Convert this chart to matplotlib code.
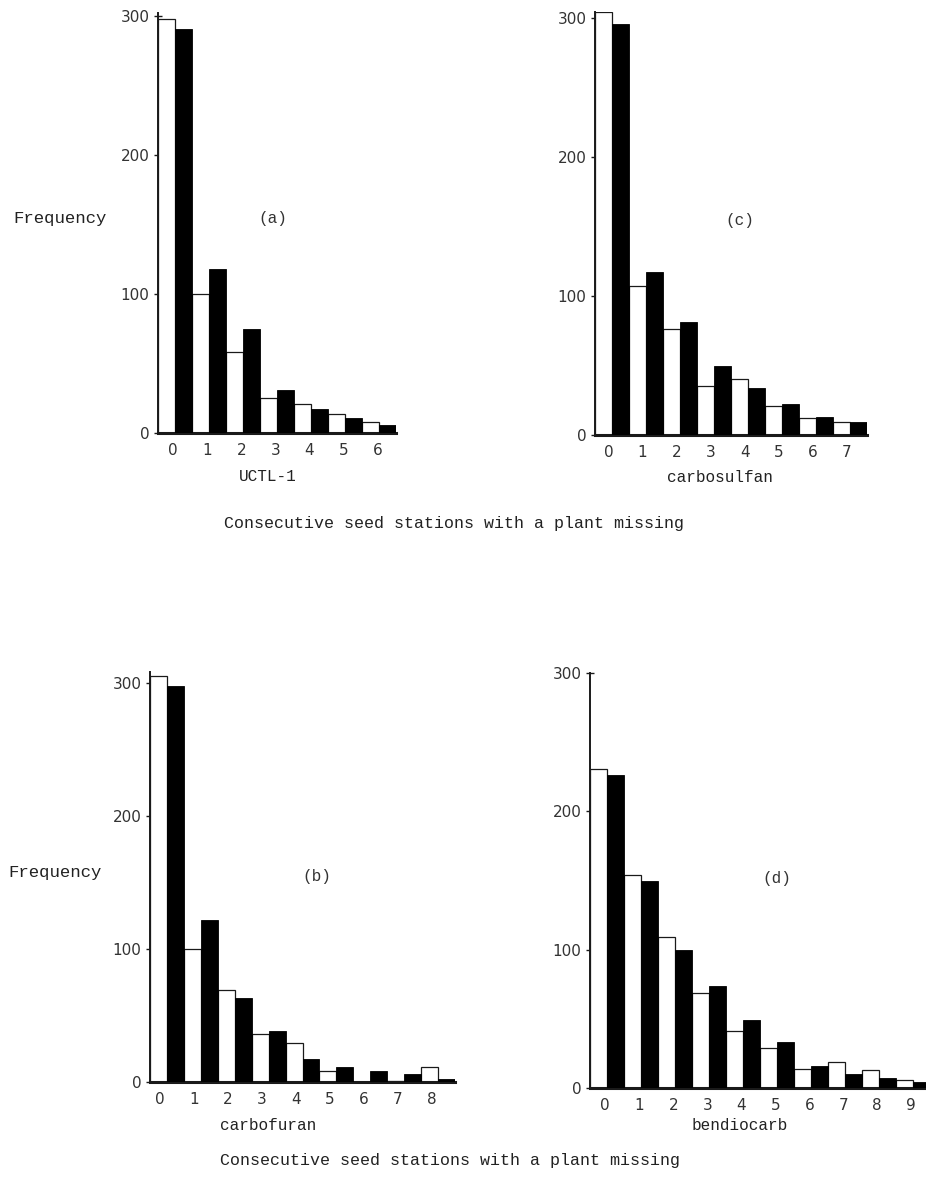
import matplotlib
matplotlib.use("Agg")
import matplotlib.pyplot as plt
import numpy as np

# Frequency of runs of consecutive seed stations with a plant missing
# open bars / filled bars for each seed treatment
uctl_open = [298, 100, 58, 25, 21, 14, 8]
uctl_filled = [291, 118, 75, 31, 17, 11, 6]

carbosulfan_open = [304, 107, 76, 35, 40, 21, 12, 9]
carbosulfan_filled = [296, 117, 81, 50, 34, 22, 13, 9]

carbofuran_open = [305, 100, 69, 36, 29, 8, 0, 1, 11]
carbofuran_filled = [298, 122, 63, 38, 17, 11, 8, 6, 2]

bendiocarb_open = [231, 154, 109, 69, 41, 29, 14, 19, 13, 6]
bendiocarb_filled = [226, 150, 100, 74, 49, 33, 16, 10, 7, 4]

panel_tags = ["(a)", "(c)", "(b)", "(d)"]
treatments = ["UCTL-1", "carbosulfan", "carbofuran", "bendiocarb"]
yticks = [0, 100, 200, 300]
caption = "Consecutive seed stations with a plant missing"

W, H = 926, 1183
fig = plt.figure(figsize=(W / 100, H / 100), dpi=100)
fig.patch.set_facecolor("white")

MONO = "Liberation Mono"
SANS = "DejaVu Sans"
INK = "#1a1a1a"


def px_axes(x0, y0, ncat, dx, ytop, ppu):
    """Axes whose origin sits at pixel (x0, y0), one category = dx pixels."""
    left = x0 / W
    bottom = 1 - y0 / H
    width = ncat * dx / W
    height = ytop * ppu / H
    return fig.add_axes([left, bottom, width, height])


def panel(x0, y0, dx, ppu, ytop, opens, filled, tag, tag_xy, name, name_xy,
          label_off):
    n = len(opens)
    ax = px_axes(x0, y0, n, dx, ytop, ppu)
    x = np.arange(n)
    ax.bar(x + 0.25, opens, width=0.5, color="white", edgecolor=INK,
           linewidth=0.9, zorder=2)
    ax.bar(x + 0.75, filled, width=0.5, color="black", edgecolor="black",
           linewidth=0.6, zorder=3)
    ax.set_xlim(0, n)
    ax.set_ylim(0, ytop)
    for s in ("top", "right"):
        ax.spines[s].set_visible(False)
    ax.spines["left"].set_linewidth(1.4)
    ax.spines["bottom"].set_linewidth(2.2)
    ax.spines["left"].set_color(INK)
    ax.spines["bottom"].set_color(INK)
    ax.set_yticks(yticks)
    ax.set_yticklabels([str(v) for v in yticks], fontsize=11, family=SANS,
                       color="#333333")
    ax.tick_params(axis="y", direction="inout", length=6, width=1.0, pad=3,
                   color=INK)
    ax.set_xticks(x + label_off)
    ax.set_xticklabels([str(v) for v in x], fontsize=11, family=SANS,
                       color="#333333")
    ax.tick_params(axis="x", length=0, pad=7)
    ax.patch.set_alpha(0)
    fig.text(tag_xy[0] / W, 1 - tag_xy[1] / H, tag, ha="center", va="center",
             family=MONO, fontsize=11.5, color="#333333")
    fig.text(name_xy[0] / W, 1 - name_xy[1] / H, name, ha="center",
             va="center", family=MONO, fontsize=11.5, color="#222222")
    return ax


panel(158, 433, 34.0, 1.39, 302, uctl_open, uctl_filled, panel_tags[0],
      (273, 218), treatments[0], (268, 476), 0.45)
panel(595, 435, 34.0, 1.39, 304, carbosulfan_open, carbosulfan_filled,
      panel_tags[1], (740, 220), treatments[1], (720, 478), 0.4)
panel(150, 1082, 33.9, 1.33, 308, carbofuran_open, carbofuran_filled,
      panel_tags[2], (317, 877), treatments[2], (268, 1125), 0.3)
panel(590, 1088, 34.0, 1.383, 300, bendiocarb_open, bendiocarb_filled,
      panel_tags[3], (777, 878), treatments[3], (740, 1125), 0.45)

# shared y-axis labels and captions
fig.text(60 / W, 1 - 218 / H, "Frequency", ha="center", va="center",
         family=MONO, fontsize=12.5, color="#222222")
fig.text(55 / W, 1 - 872 / H, "Frequency", ha="center", va="center",
         family=MONO, fontsize=12.5, color="#222222")
fig.text(454 / W, 1 - 523 / H, caption, ha="center", va="center",
         family=MONO, fontsize=12, color="#222222")
fig.text(450 / W, 1 - 1160 / H, caption, ha="center", va="center",
         family=MONO, fontsize=12, color="#222222")

fig.savefig("out.png", dpi=100, facecolor="white")
